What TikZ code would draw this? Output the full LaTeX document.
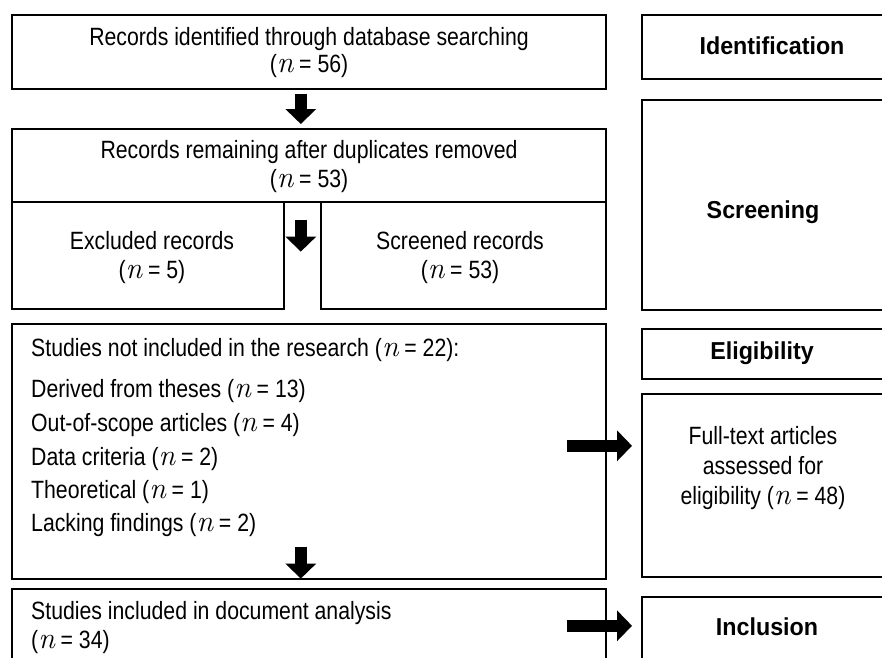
\documentclass[tikz,border=0pt]{standalone}
\usepackage{fontspec}
\setmainfont{Liberation Sans}[FakeStretch=0.85]
\newfontfamily\headfam{Liberation Sans}[FakeStretch=0.95]
\newfontfamily\lmrfam{Latin Modern Roman}[Scale=1.2]
\newcommand{\nn}{{\lmrfam\itshape n}}
\usetikzlibrary{arrows.meta}
\begin{document}
\begin{tikzpicture}[x=1pt,y=-1pt,
  box/.style={draw=black, line width=1.6pt, anchor=north west, inner sep=0pt},
  txt/.style={font=\fontsize{25}{29}\selectfont, align=center, inner sep=0pt},
  txtl/.style={font=\fontsize{25}{29}\selectfont, align=left, inner sep=0pt, anchor=west},
  headtxt/.style={font=\headfam\fontsize{24.5}{26}\selectfont\bfseries, inner sep=0pt},
  blk/.style={line width=12.5pt, -{Triangle[width=30pt,length=15pt]}},
]
\clip (0,0) rectangle (882,657);
\fill[white] (0,0) rectangle (882,657);

% left column boxes
\node[box, minimum width=594pt, minimum height=74pt] (b1) at (11,14) {};
\node[box, minimum width=594pt, minimum height=73pt] (b2) at (11,128) {};
\node[box, minimum width=272pt, minimum height=107pt] (excl) at (11,201) {};
\node[box, minimum width=285pt, minimum height=107pt] (scr) at (320,201) {};
\node[box, minimum width=594pt, minimum height=255pt] (notinc) at (11,323) {};
\node[box, minimum width=594pt, minimum height=80pt] (inc) at (11,588) {};

% right column boxes
\node[box, minimum width=250pt, minimum height=64pt] (ident) at (641,14) {};
\node[box, minimum width=250pt, minimum height=210pt] (screen) at (641,99) {};
\node[box, minimum width=250pt, minimum height=50pt] (elig) at (641,328) {};
\node[box, minimum width=250pt, minimum height=183pt] (full) at (641,393) {};
\node[box, minimum width=250pt, minimum height=80pt] (incl) at (641,596) {};

% texts
\node[txt, font=\fontsize{25}{27}\selectfont] (t1) at (309,53) {Records identified through database searching\\(\nn{} = 56)};
\node[txt] (t2) at (309,167) {Records remaining after duplicates removed\\(\nn{} = 53)};
\node[txt] (t3) at (152,258) {Excluded records\\(\nn{} = 5)};
\node[txt] (t4) at (460,258) {Screened records\\(\nn{} = 53)};
\node[txtl] (l1) at (31,350) {Studies not included in the research (\nn{} = 22):};
\node[txtl] (l2) at (31,391) {Derived from theses (\nn{} = 13)};
\node[txtl] (l3) at (31,425) {Out-of-scope articles (\nn{} = 4)};
\node[txtl] (l4) at (31,459) {Data criteria (\nn{} = 2)};
\node[txtl] (l5) at (31,492) {Theoretical (\nn{} = 1)};
\node[txtl] (l6) at (31,525) {Lacking findings (\nn{} = 2)};
\node[txtl] (t5) at (31,628) {Studies included in document analysis\\(\nn{} = 34)};
\node[txt, font=\fontsize{25}{30}\selectfont] (t6) at (763,468) {Full-text articles\\assessed for\\eligibility (\nn{} = 48)};

\node[headtxt] (h1) at (772,46) {Identification};
\node[headtxt] (h2) at (763,212) {Screening};
\node[headtxt] (h3) at (762,353) {Eligibility};
\node[headtxt] (h4) at (767,627) {Inclusion};

% block arrows
\draw[blk] ([xshift=-8pt,yshift=-4pt]b1.south) -- ([xshift=-8pt,yshift=4pt]b2.north);
\draw[blk] ([xshift=-8pt,yshift=-17pt]b2.south) -- ([xshift=-8pt,yshift=-49pt]b2.south);
\draw[blk] ([xshift=-8pt,yshift=33pt]notinc.south) -- ([xshift=-8pt,yshift=1pt]notinc.south);
\draw[blk] ([xshift=-40pt,yshift=5.5pt]notinc.east) -- ([xshift=-9pt,yshift=39.5pt]full.west);
\draw[blk] ([xshift=-40pt,yshift=3pt]inc.east) -- ([xshift=-9pt,yshift=11pt]incl.west);
\end{tikzpicture}
\end{document}
